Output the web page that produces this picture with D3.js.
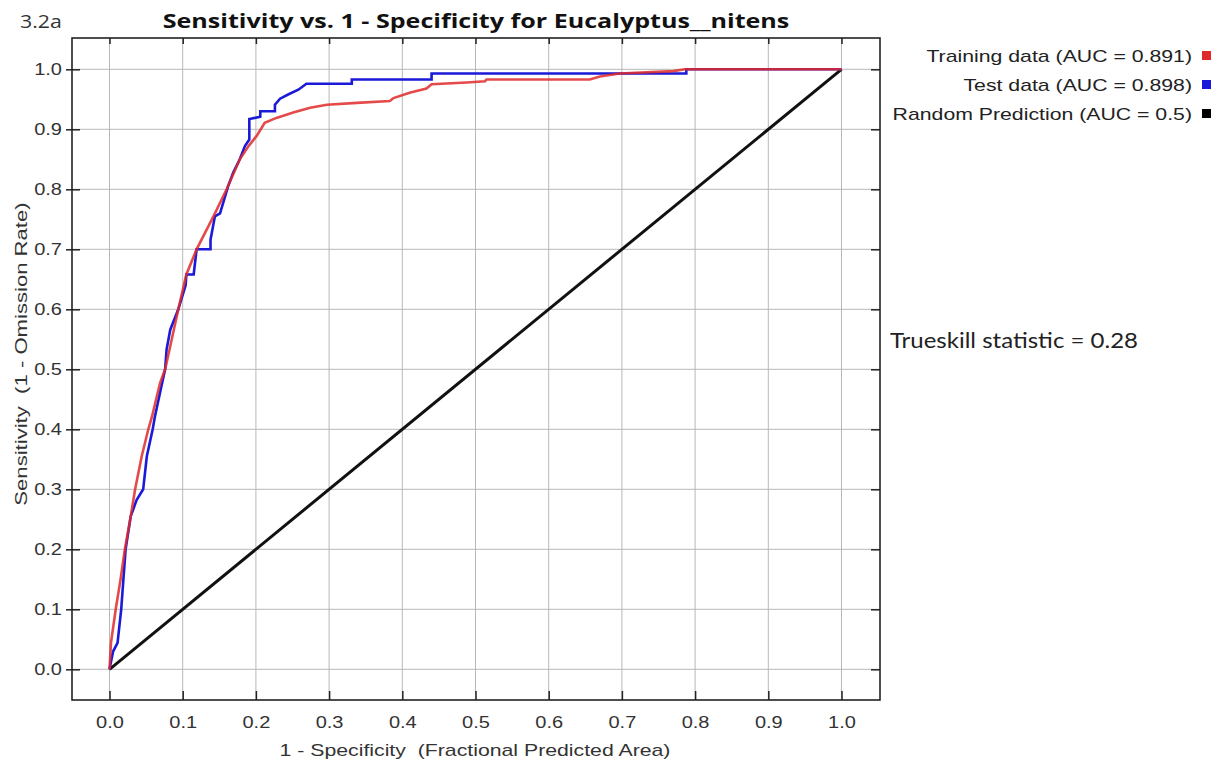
<!DOCTYPE html>
<html><head><meta charset="utf-8">
<script src="https://cdn.jsdelivr.net/npm/d3@7"></script>
<style>body{margin:0;background:#fff}svg{display:block}</style>
</head><body>
<svg id="c" width="1222" height="765"></svg>
<script>
// ---- data ----
const xTicks = [0,0.1,0.2,0.3,0.4,0.5,0.6,0.7,0.8,0.9,1.0];
const yTicks = [0,0.1,0.2,0.3,0.4,0.5,0.6,0.7,0.8,0.9,1.0];
const trainX = [0,0.002,0.0085,0.015,0.021,0.029,0.035,0.044,0.053,0.058,0.069,0.076,0.082,0.094,0.105,0.119,0.142,0.160,0.178,0.190,0.201,0.212,0.228,0.251,0.274,0.297,0.338,0.383,0.388,0.41,0.433,0.44,0.488,0.513,0.515,0.656,0.67,0.697,0.77,0.786,1.0];
const trainY = [0,0.044,0.1,0.149,0.2,0.255,0.3,0.355,0.4,0.421,0.477,0.5,0.533,0.6,0.658,0.7,0.755,0.8,0.85,0.872,0.889,0.911,0.919,0.928,0.936,0.941,0.944,0.947,0.952,0.961,0.968,0.975,0.978,0.98,0.983,0.983,0.988,0.993,0.997,1.0,1.0];
const testX = [0,0.005,0.011,0.016,0.022,0.029,0.037,0.046,0.051,0.059,0.062,0.071,0.076,0.078,0.083,0.094,0.104,0.105,0.115,0.119,0.138,0.138,0.144,0.151,0.162,0.169,0.178,0.185,0.191,0.191,0.206,0.206,0.226,0.226,0.233,0.244,0.258,0.269,0.331,0.331,0.44,0.44,0.788,0.788,1.0];
const testY = [0,0.03,0.044,0.1,0.2,0.255,0.282,0.3,0.355,0.4,0.421,0.472,0.5,0.533,0.566,0.6,0.64,0.658,0.658,0.70,0.70,0.716,0.755,0.76,0.805,0.828,0.85,0.872,0.883,0.917,0.921,0.930,0.930,0.941,0.951,0.958,0.966,0.976,0.976,0.983,0.983,0.993,0.993,1.0,1.0];
const randX = [0,1];
const randY = [0,1];
const legendLabels = ["Training data (AUC = 0.891)","Test data (AUC = 0.898)","Random Prediction (AUC = 0.5)"];
const legendColors = ["#e02a2a","#1a1ad8","#000000"];

// ---- drawing ----
const svg = d3.select("#c");
const box = {l:72, r:880, t:38, b:700};
const x = d3.scaleLinear().domain([0,1]).range([109.5,841.5]);
const y = d3.scaleLinear().domain([0,1]).range([669.3,69.3]);
const ARIAL = "Liberation Sans, Arial, sans-serif";
function stretch(sel, k){
  sel.each(function(){
    const w = this.getComputedTextLength();
    d3.select(this).attr("textLength", w*k).attr("lengthAdjust","spacingAndGlyphs");
  });
}

svg.append("rect").attr("x",box.l).attr("y",box.t).attr("width",box.r-box.l).attr("height",box.b-box.t).attr("fill","#fff");

// grid
svg.append("g").selectAll("line").data(xTicks).join("line")
  .attr("x1",d=>x(d)).attr("x2",d=>x(d)).attr("y1",box.t).attr("y2",box.b)
  .attr("stroke","#b8b8b8").attr("stroke-width",1);
svg.append("g").selectAll("line").data(yTicks).join("line")
  .attr("y1",d=>y(d)).attr("y2",d=>y(d)).attr("x1",box.l).attr("x2",box.r)
  .attr("stroke","#b8b8b8").attr("stroke-width",1);

// axes via d3
const fmt = d3.format(".1f");
const gx = svg.append("g").attr("transform",`translate(0,${box.b})`)
  .call(d3.axisBottom(x).tickValues(xTicks).tickFormat(fmt).tickSizeInner(-9).tickSizeOuter(0).tickPadding(17));
const gy = svg.append("g").attr("transform",`translate(${box.l},0)`)
  .call(d3.axisLeft(y).tickValues(yTicks).tickFormat(fmt).tickSizeInner(6).tickSizeOuter(0).tickPadding(4));
const gt = svg.append("g").attr("transform",`translate(0,${box.t})`)
  .call(d3.axisTop(x).tickValues(xTicks).tickFormat("").tickSizeInner(-6).tickSizeOuter(0));
const gr = svg.append("g").attr("transform",`translate(${box.r},0)`)
  .call(d3.axisRight(y).tickValues(yTicks).tickFormat("").tickSizeInner(-9).tickSizeOuter(0));
[gx,gy,gt,gr].forEach(g=>{
  g.select(".domain").remove();
  g.selectAll(".tick line").attr("stroke","#222").attr("stroke-width",1.5);
  g.selectAll(".tick text").attr("font-family",ARIAL).attr("font-size",16).attr("fill","#333");
});
gy.selectAll(".tick line").attr("x2",8).attr("x1",-6);
stretch(gx.selectAll(".tick text"),1.25);
stretch(gy.selectAll(".tick text"),1.25);

// border
svg.append("rect").attr("x",box.l).attr("y",box.t).attr("width",box.r-box.l).attr("height",box.b-box.t)
  .attr("fill","none").attr("stroke","#222").attr("stroke-width",1.6);

// lines
const line = d3.line().x(d=>x(d[0])).y(d=>y(d[1]));
const rand = d3.zip(randX,randY), train = d3.zip(trainX,trainY), test = d3.zip(testX,testY);
svg.append("path").attr("d",line(rand)).attr("fill","none").attr("stroke","#111").attr("stroke-width",3);
svg.append("path").attr("d",line(test)).attr("fill","none").attr("stroke","#1a1ad8").attr("stroke-width",2.6);
svg.append("path").attr("d",line(train)).attr("fill","none").attr("stroke","#e02a2a").attr("stroke-width",2.6).attr("stroke-opacity",0.85);

// titles
svg.append("text").attr("x",20).attr("y",28).text("3.2a")
  .attr("font-family","Open Sans, sans-serif").attr("font-size",19).attr("fill","#333")
  .call(s=>stretch(s,1.12));
svg.append("text").attr("x",476).attr("y",28).attr("text-anchor","middle")
  .text("Sensitivity vs. 1 - Specificity for Eucalyptus__nitens")
  .attr("font-family","Open Sans, sans-serif").attr("font-weight","bold").attr("font-size",19).attr("fill","#111")
  .call(s=>stretch(s,1.32));
svg.append("text").attr("x",475).attr("y",756).attr("text-anchor","middle").style("white-space","pre")
  .text("1 - Specificity  (Fractional Predicted Area)")
  .attr("font-family",ARIAL).attr("font-size",17).attr("fill","#333")
  .call(s=>stretch(s,1.25));
svg.append("text").attr("transform","translate(27,354) rotate(-90)").attr("text-anchor","middle").style("white-space","pre")
  .text("Sensitivity  (1 - Omission Rate)")
  .attr("font-family",ARIAL).attr("font-size",17).attr("fill","#333")
  .call(s=>stretch(s,1.3));

// legend
const leg = svg.append("g");
const ly = [62,91,120];
leg.selectAll("text").data(legendLabels).join("text")
  .attr("x",1192).attr("y",(d,i)=>ly[i]).attr("text-anchor","end").text(d=>d)
  .attr("font-family",ARIAL).attr("font-size",17).attr("fill","#222")
  .call(s=>stretch(s,1.25));
leg.selectAll("rect").data(legendColors).join("rect")
  .attr("x",1202).attr("y",(d,i)=>ly[i]-11).attr("width",9).attr("height",9).attr("fill",d=>d);

svg.append("text").attr("x",890).attr("y",348).text("Trueskill statistic = 0.28")
  .attr("font-family","Lato, sans-serif").attr("font-size",21).attr("fill","#222")
  .attr("textLength",248).attr("lengthAdjust","spacingAndGlyphs");
</script>
</body></html>
